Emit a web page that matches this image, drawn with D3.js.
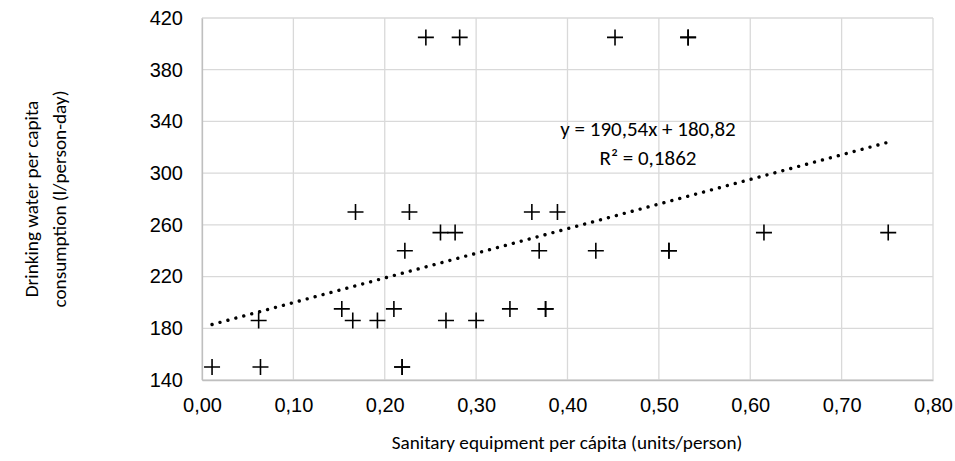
<!DOCTYPE html>
<html>
<head>
<meta charset="utf-8">
<script src="https://cdn.jsdelivr.net/npm/d3@7"></script>
<style>
  html, body { margin: 0; padding: 0; background: #fff; }
  svg { display: block; font-family: Carlito, Calibri, Lato, sans-serif; }
</style>
</head>
<body>
<svg id="chart" width="955" height="461"></svg>
<script>
// ---- data ----
const sanitaryEquipment = [0.011, 0.064, 0.219, 0.219, 0.062, 0.165, 0.192, 0.267, 0.300,
  0.153, 0.210, 0.337, 0.376, 0.376, 0.222, 0.369, 0.431, 0.511, 0.511,
  0.261, 0.277, 0.615, 0.751, 0.168, 0.227, 0.361, 0.389,
  0.245, 0.282, 0.452, 0.532, 0.532];
const waterConsumption = [150, 150, 150, 150, 186, 186, 186, 186, 186,
  195, 195, 195, 195, 195, 240, 240, 240, 240, 240,
  254, 254, 254, 254, 270, 270, 270, 270,
  405, 405, 405, 405, 405];
const xTicks = [0, 0.1, 0.2, 0.3, 0.4, 0.5, 0.6, 0.7, 0.8];
const yTicks = [140, 180, 220, 260, 300, 340, 380, 420];
const trendSlope = 190.54;
const trendIntercept = 180.82;
const trendLabel = ["y = 190,54x + 180,82", "R² = 0,1862"];
const xTitle = "Sanitary equipment per cápita (units/person)";
const yTitle = ["Drinking water per capita", "consumption (l/person-day)"];

// ---- layout ----
const svg = d3.select("#chart");
const plot = { left: 202, right: 933, top: 18, bottom: 380 };
const x = d3.scaleLinear().domain([0, 0.8]).range([plot.left, plot.right]);
const y = d3.scaleLinear().domain([140, 420]).range([plot.bottom, plot.top]);
const fmt = v => d3.format(".2f")(v).replace(".", ",");
const fontSize = 20;
const titleSize = 19.2;

// gridlines
svg.append("g").selectAll("line.v").data(xTicks).join("line")
  .attr("x1", d => x(d)).attr("x2", d => x(d))
  .attr("y1", plot.top).attr("y2", plot.bottom)
  .attr("stroke", "#d9d9d9").attr("stroke-width", 1.3);
svg.append("g").selectAll("line.h").data(yTicks).join("line")
  .attr("x1", plot.left).attr("x2", plot.right)
  .attr("y1", d => y(d)).attr("y2", d => y(d))
  .attr("stroke", "#d9d9d9").attr("stroke-width", 1.3);

// axes (labels only)
const xAxis = d3.axisBottom(x).tickValues(xTicks).tickFormat(fmt).tickSize(0).tickPadding(18);
const gx = svg.append("g").attr("transform", `translate(0,${plot.bottom})`).call(xAxis);
gx.select(".domain").attr("stroke", "#bfbfbf").attr("stroke-width", 1.3);
gx.selectAll("text").attr("font-size", fontSize).attr("fill", "#000").attr("font-family", null);

const yAxis = d3.axisLeft(y).tickValues(yTicks).tickFormat(d3.format("d")).tickSize(0).tickPadding(19);
const gy = svg.append("g").attr("transform", `translate(${plot.left},0)`).call(yAxis);
gy.select(".domain").attr("stroke", "#bfbfbf").attr("stroke-width", 1.3);
gy.selectAll("text").attr("font-size", fontSize).attr("fill", "#000").attr("font-family", null);

// trendline
const xMin = d3.min(sanitaryEquipment), xMax = d3.max(sanitaryEquipment);
svg.append("line")
  .attr("x1", x(xMin)).attr("y1", y(trendSlope * xMin + trendIntercept))
  .attr("x2", x(xMax)).attr("y2", y(trendSlope * xMax + trendIntercept))
  .attr("stroke", "#000").attr("stroke-width", 3.4)
  .attr("stroke-linecap", "round").attr("stroke-dasharray", "0.01 8.2");

// points (plus markers)
const pts = sanitaryEquipment.map((v, i) => [v, waterConsumption[i]]);
const arm = 8;
const g = svg.append("g").attr("stroke", "#000").attr("stroke-width", 1.6);
g.selectAll("path").data(pts).join("path")
  .attr("d", d => `M${x(d[0]) - arm},${y(d[1])}H${x(d[0]) + arm}M${x(d[0])},${y(d[1]) - arm}V${y(d[1]) + arm}`)
  .attr("fill", "none");

// trend label
svg.append("text").attr("x", 648).attr("y", 136).attr("text-anchor", "middle")
  .attr("font-size", 21).text(trendLabel[0]);
svg.append("text").attr("x", 648).attr("y", 165).attr("text-anchor", "middle")
  .attr("font-size", 21).text(trendLabel[1]);

// titles
svg.append("text").attr("x", 567).attr("y", 449).attr("text-anchor", "middle")
  .attr("font-size", titleSize).text(xTitle);
const yt = svg.append("g").attr("transform", "translate(0,199) rotate(-90)");
yt.append("text").attr("x", 0).attr("y", 38).attr("text-anchor", "middle")
  .attr("font-size", titleSize).text(yTitle[0]);
yt.append("text").attr("x", 0).attr("y", 66).attr("text-anchor", "middle")
  .attr("font-size", titleSize).text(yTitle[1]);
</script>
</body>
</html>
